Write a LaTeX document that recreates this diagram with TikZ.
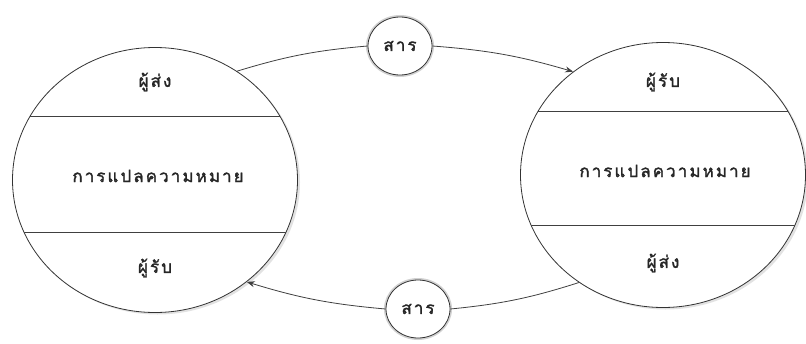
\documentclass[tikz,border=0pt]{standalone}
\usepackage{fontspec}
\newfontfamily\thaifont[Script=Thai, FakeBold=1.6, LetterSpace=12]{Loma}
\usetikzlibrary{shapes.geometric,arrows.meta,shadows}
\begin{document}
\begin{tikzpicture}[x=1pt,y=-1pt,
  big/.style={ellipse, draw=black!80, line width=0.8pt, minimum width=285pt, minimum height=265pt, inner sep=0pt, fill=white,
     drop shadow={shadow xshift=2.5pt, shadow yshift=-2pt, fill=black!22}},
  msg/.style={ellipse, draw=black!80, line width=0.8pt, minimum width=64pt, minimum height=58pt, inner sep=0pt, fill=white,
     preaction={draw=black!18, line width=4pt}},
  lbl/.style={font=\thaifont\fontsize{17}{19}\selectfont, text=black!85, inner sep=1pt},
  chord/.style={draw=black!75, line width=0.8pt},
  conn/.style={draw=black!75, line width=0.8pt},
  tip/.style={-{Stealth[length=8pt,width=6pt]}}]
\useasboundingbox (0,0) rectangle (806,343);
\fill[white] (0,0) rectangle (806,343);
% big ellipses
\node[big] (L) at (155,180) {};
\node[big] (R) at (663,175) {};
% chords
\draw[chord] (30.2,116) -- (279.8,116);
\draw[chord] (23.9,232) -- (286.1,232);
\draw[chord] (538.2,111) -- (787.8,111);
\draw[chord] (531.4,225) -- (794.6,225);
% labels
\node[lbl] (Ls) at (155,82) {ผู้ส่ง};
\node[lbl] (Lm) at (158,176) {การแปลความหมาย};
\node[lbl] (Lr) at (155,268) {ผู้รับ};
\node[lbl] (Rr) at (663,82) {ผู้รับ};
\node[lbl] (Rm) at (665,171) {การแปลความหมาย};
\node[lbl] (Rs) at (663,263) {ผู้ส่ง};
% message circles
\node[msg, lbl] (m1) at (400,46) {สาร};
\node[msg, lbl] (m2) at (418,309) {สาร};
% connectors
\draw[conn] (L.53) to[bend left=6] (m1.west);
\draw[conn,tip] (m1.east) to[bend left=6] (R.131);
\draw[conn] (R.232) to[bend left=6] (m2.east);
\draw[conn,tip] (m2.west) to[bend left=6] (L.312);
\end{tikzpicture}
\end{document}
